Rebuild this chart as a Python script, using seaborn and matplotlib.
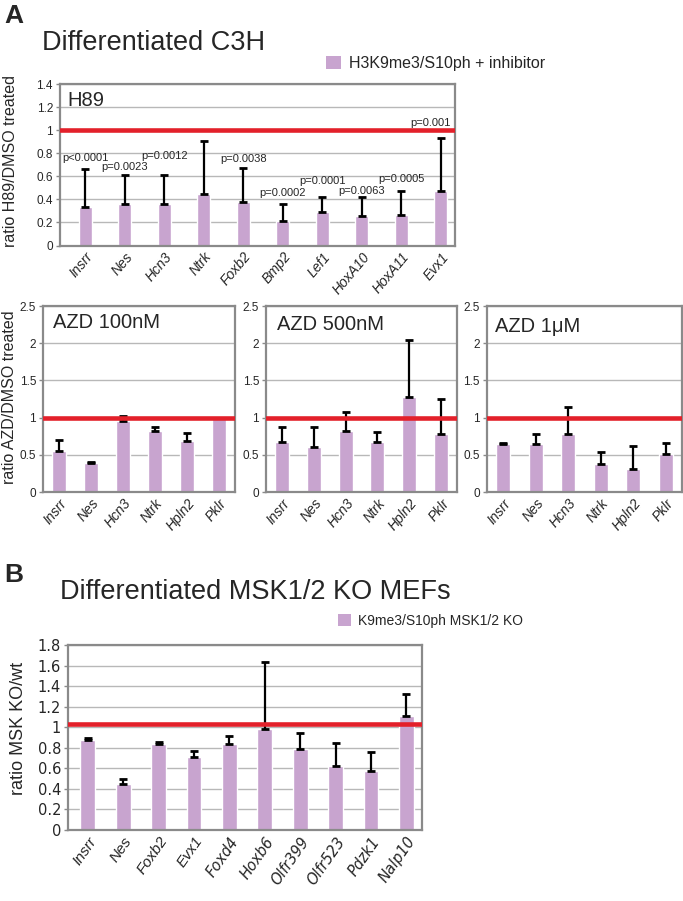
import numpy as np
import pandas as pd
import matplotlib
matplotlib.use("Agg")
import matplotlib.pyplot as plt
import seaborn as sns
from matplotlib.patches import Patch

# ---------------- data ----------------
h89_genes = ["Insrr", "Nes", "Hcn3", "Ntrk", "Foxb2", "Bmp2", "Lef1", "HoxA10", "HoxA11", "Evx1"]
h89_vals = [0.33, 0.36, 0.36, 0.45, 0.375, 0.215, 0.29, 0.26, 0.265, 0.475]
h89_err_top = [0.665, 0.61, 0.61, 0.91, 0.67, 0.364, 0.42, 0.42, 0.47, 0.935]
h89_pvals = ["p<0.0001", "p=0.0023", "p=0.0012", "", "p=0.0038", "p=0.0002",
             "p=0.0001", "p=0.0063", "p=0.0005", "p=0.001"]
h89_p_y = [0.76, 0.68, 0.78, 0.0, 0.75, 0.455, 0.56, 0.47, 0.58, 1.06]

azd_genes = ["Insrr", "Nes", "Hcn3", "Ntrk", "Hpln2", "Pklr"]
azd100_vals = [0.547, 0.39, 0.95, 0.816, 0.69, 0.99]
azd100_err_top = [0.695, 0.41, 1.02, 0.88, 0.79, 0.99]
azd500_vals = [0.667, 0.61, 0.824, 0.672, 1.28, 0.78]
azd500_err_top = [0.88, 0.87, 1.075, 0.806, 2.04, 1.245]
azd1u_vals = [0.647, 0.64, 0.78, 0.38, 0.31, 0.51]
azd1u_err_top = [0.66, 0.78, 1.14, 0.54, 0.62, 0.66]

msk_genes = ["Insrr", "Nes", "Foxb2", "Evx1", "Foxd4", "Hoxb6", "Olfr399", "Olfr523", "Pdzk1", "Nalp10"]
msk_vals = [0.879, 0.443, 0.84, 0.706, 0.833, 0.98, 0.788, 0.625, 0.57, 1.113]
msk_err_top = [0.898, 0.495, 0.86, 0.768, 0.918, 1.63, 0.94, 0.846, 0.758, 1.32]

ref_a = 1.0
ref_b = 1.03

# ---------------- style ----------------
sns.set_style("white")
plt.rcParams["font.family"] = ["Liberation Sans", "DejaVu Sans"]

BAR = "#c8a4cf"
RED = "#e3202a"
GRID = "#b8b8b8"
SPINE = "#8a8a8a"

fig = plt.figure(figsize=(6.83, 9.01), dpi=100)


def draw_panel(ax, genes, vals, tops, ylim, yticks, ref, width,
               tick_fs=8.5, xlab_fs=10, rot=50, xshift=0.0):
    df = pd.DataFrame({"gene": genes, "value": vals})
    sns.barplot(data=df, x="gene", y="value", color=BAR, saturation=1,
                width=width, ax=ax, errorbar=None, zorder=2)
    x = np.arange(len(genes))
    v = np.array(vals)
    up = np.array(tops) - v
    ax.errorbar(x, v, yerr=[np.zeros_like(up), up], fmt="none", ecolor="black",
                elinewidth=1.6, capsize=3, capthick=2, zorder=3)
    ax.axhline(ref, color=RED, lw=3.3, zorder=4)
    ax.set_ylim(*ylim)
    ax.set_yticks(yticks)
    ax.set_yticklabels([f"{t:g}" for t in yticks], fontsize=tick_fs)
    ax.set_xlim(-0.5 - xshift, len(genes) - 0.5 - xshift)
    ax.yaxis.grid(True, color=GRID, lw=1)
    ax.xaxis.grid(False)
    ax.set_axisbelow(True)
    for s in ax.spines.values():
        s.set_visible(True)
        s.set_color(SPINE)
        s.set_linewidth(1.6)
    ax.set_xlabel("")
    ax.set_ylabel("")
    ax.tick_params(axis="x", length=0, pad=3)
    ax.tick_params(axis="y", length=3, color=SPINE, width=1, pad=2, left=True)
    for lab in ax.get_xticklabels():
        lab.set_rotation(rot)
        lab.set_ha("right")
        lab.set_rotation_mode("anchor")
        lab.set_style("italic")
        lab.set_fontsize(xlab_fs)


# ---------------- panel A : H89 ----------------
ax_h = fig.add_axes([0.0878, 0.7275, 0.5783, 0.1792])
draw_panel(ax_h, h89_genes, h89_vals, h89_err_top, (0, 1.4),
           [0, 0.2, 0.4, 0.6, 0.8, 1.0, 1.2, 1.4], ref_a, 0.32, xshift=0.14)
for i, (p, py) in enumerate(zip(h89_pvals, h89_p_y)):
    if p:
        dx = -0.25 if i == len(h89_pvals) - 1 else 0.0
        ax_h.text(i + dx, py, p, ha="center", va="center", fontsize=8, zorder=6)
ax_h.text(0.02, 0.9, "H89", transform=ax_h.transAxes, fontsize=14.5,
          ha="left", va="center")

# ---------------- panel A : AZD ----------------
azd_specs = [
    ([0.063, 0.4539, 0.2811, 0.2064], azd100_vals, azd100_err_top, "AZD 100nM", 0.05, 0.914),
    ([0.3895, 0.4539, 0.2796, 0.2064], azd500_vals, azd500_err_top, "AZD 500nM", 0.058, 0.90),
    ([0.713, 0.4539, 0.2855, 0.2064], azd1u_vals, azd1u_err_top, "AZD 1\u03bcM", 0.04, 0.89),
]
for rect, vals, tops, name, tx, ty in azd_specs:
    ax = fig.add_axes(rect)
    draw_panel(ax, azd_genes, vals, tops, (0, 2.5), [0, 0.5, 1, 1.5, 2, 2.5],
               ref_a, 0.44, tick_fs=8.5, xlab_fs=10)
    ax.text(tx, ty, name, transform=ax.transAxes, fontsize=14.5,
            ha="left", va="center")

# ---------------- panel B ----------------
ax_b = fig.add_axes([0.0996, 0.0788, 0.5183, 0.2053])
draw_panel(ax_b, msk_genes, msk_vals, msk_err_top, (0, 1.8),
           [0, 0.2, 0.4, 0.6, 0.8, 1.0, 1.2, 1.4, 1.6, 1.8], ref_b, 0.42,
           tick_fs=10.5, xlab_fs=11, rot=55, xshift=0.06)
for lab in ax_b.get_yticklabels():
    lab.set_family("DejaVu Sans")
for i, lab in enumerate(ax_b.get_xticklabels()):
    if i >= 4:
        lab.set_family("DejaVu Sans")
        lab.set_fontsize(10.5)

# ---------------- texts ----------------
fig.text(0.006, 0.982, "A", fontsize=19, fontweight="bold", ha="left", va="center")
fig.text(0.062, 0.952, "Differentiated C3H", fontsize=19.5, ha="left", va="center")
fig.text(0.006, 0.362, "B", fontsize=19, fontweight="bold", ha="left", va="center")
fig.text(0.088, 0.343, "Differentiated MSK1/2 KO MEFs", fontsize=19.5, ha="left", va="center")

fig.text(0.016, 0.821, "ratio H89/DMSO treated", rotation=90, fontsize=11.5,
         ha="center", va="center")
fig.text(0.014, 0.559, "ratio AZD/DMSO treated", rotation=90, fontsize=11.5,
         ha="center", va="center")
fig.text(0.027, 0.192, "ratio MSK KO/wt", rotation=90, fontsize=13,
         ha="center", va="center")

fig.legend(handles=[Patch(facecolor=BAR, edgecolor="none", label="H3K9me3/S10ph + inhibitor")],
           loc="center left", bbox_to_anchor=(0.478, 0.930), frameon=False,
           fontsize=11.5, handlelength=0.9, handleheight=0.9, handletextpad=0.5,
           borderpad=0, borderaxespad=0)
fig.legend(handles=[Patch(facecolor=BAR, edgecolor="none", label="K9me3/S10ph MSK1/2 KO")],
           loc="center left", bbox_to_anchor=(0.495, 0.311), frameon=False,
           fontsize=10, handlelength=0.9, handleheight=0.9, handletextpad=0.5,
           borderpad=0, borderaxespad=0)

fig.savefig("out.png", dpi=100)
